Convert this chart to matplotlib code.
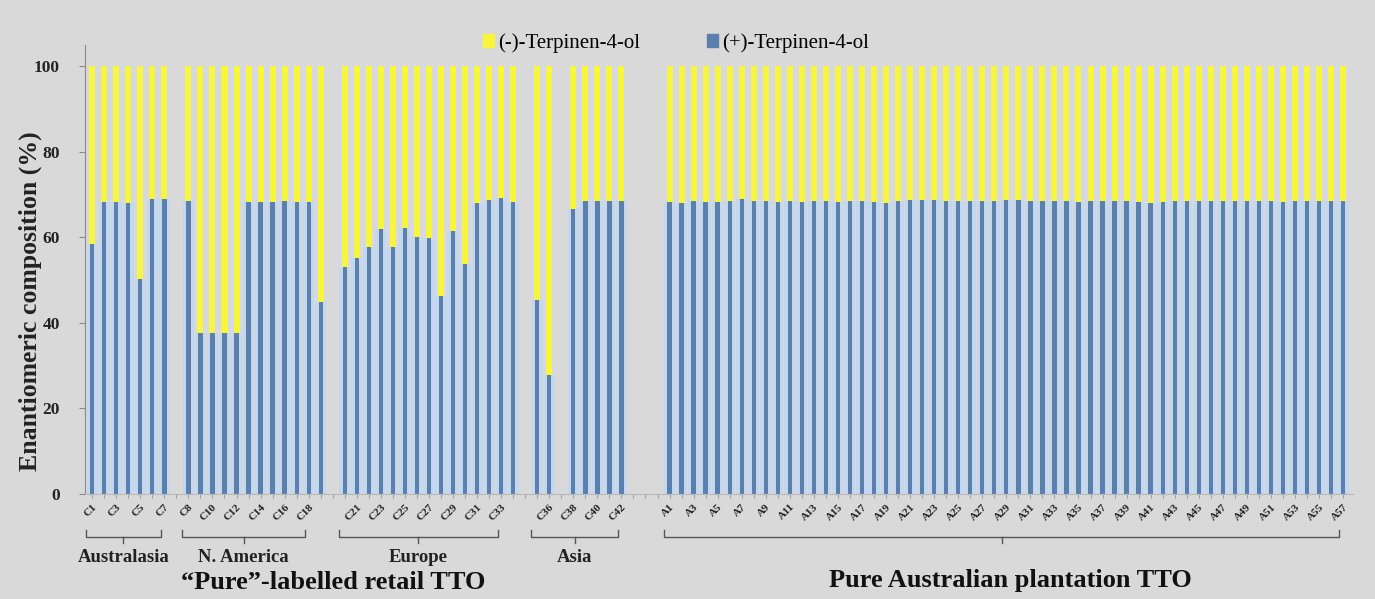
import matplotlib
matplotlib.use("Agg")
import matplotlib.pyplot as plt
import matplotlib.transforms as mtrans
from matplotlib.patches import Patch
import numpy as np

# sample names and (+)-terpinen-4-ol share (%) per group
aus_names = ["C%d" % i for i in range(1, 8)]
aus_plus = [58.5, 68.2, 68.3, 68.0, 50.2, 68.9, 68.9]

na_names = ["C%d" % i for i in range(8, 20)]
na_plus = [68.4, 37.6, 37.6, 37.7, 37.6, 68.2, 68.2, 68.3, 68.6, 68.2, 68.3, 44.8]

eu_names = ["C%d" % i for i in range(20, 35)]
eu_plus = [53.0, 55.1, 57.8, 61.9, 57.8, 62.2, 60.1, 59.9, 46.4, 61.4, 53.8,
           68.1, 68.7, 69.2, 68.3]

asia_names = ["C%d" % i for i in range(35, 43)]
asia_plus = [45.4, 27.8, np.nan, 66.6, 68.4, 68.6, 68.5, 68.5]

plant_names = ["A%d" % i for i in range(1, 58)]
plant_plus = [68.3, 68.1, 68.4, 68.3, 68.2, 68.5, 68.9, 68.6, 68.4, 68.3,
              68.4, 68.3, 68.5, 68.4, 68.3, 68.4, 68.4, 68.3, 68.1, 68.5,
              68.7, 68.8, 68.7, 68.6, 68.4, 68.5, 68.6, 68.5, 68.7, 68.8,
              68.6, 68.4, 68.4, 68.5, 68.3, 68.5, 68.6, 68.5, 68.4, 68.3,
              68.1, 68.3, 68.5, 68.6, 68.5, 68.4, 68.5, 68.4, 68.5, 68.6,
              68.4, 68.3, 68.5, 68.4, 68.6, 68.5, 68.6]

groups = [("Australasia", aus_names, aus_plus, 1),
          ("N. America", na_names, na_plus, 1),
          ("Europe", eu_names, eu_plus, 1),
          ("Asia", asia_names, asia_plus, 3),
          ("", plant_names, plant_plus, 0)]

names, plus, spans = [], [], []
for label, nm, vals, gap in groups:
    start = len(names)
    names += nm
    plus += vals
    spans.append((label, start, len(names) - 1))
    names += [""] * gap
    plus += [np.nan] * gap

plus = np.array(plus)
minus = 100 - plus
x = np.arange(len(names))
ok = ~np.isnan(plus)

bg = "#d9d9d9"
fig = plt.figure(figsize=(13.75, 5.99), dpi=100, facecolor=bg)
ax = fig.add_axes([0.0618, 0.1753, 0.922, 0.7496], facecolor=bg)

serif = "Liberation Serif"

# soft halos behind the bars, then the bars themselves
ax.bar(x[ok], minus[ok], bottom=plus[ok], width=0.85, color="#d6d8e6", lw=0)
ax.bar(x[ok], plus[ok], width=0.92, color="#c3d7ef", lw=0)
ax.bar(x[ok], minus[ok], bottom=plus[ok], width=0.5, color="#f7f53c", lw=0)
ax.bar(x[ok], plus[ok], width=0.36, color="#5c80ad", lw=0)

ax.set_xlim(-0.6, len(names) - 0.2)
ax.set_ylim(0, 105)
ax.set_yticks(range(0, 101, 20))
ax.set_xticks(x)
ax.set_xticklabels([n if i % 2 == 0 else "" for i, n in enumerate(names)],
                   rotation=45, ha="right", rotation_mode="anchor",
                   fontsize=8, fontweight="bold", family=serif, color="#222222")
for lab in ax.get_yticklabels():
    lab.set_fontfamily(serif)
    lab.set_fontweight("bold")
    lab.set_fontsize(12.5)
    lab.set_color("#222222")
ax.tick_params(axis="y", length=4, color="#8a8a8a", pad=14)
ax.tick_params(axis="x", length=3, color="#a0a0a0", pad=3)
for s in ["top", "right"]:
    ax.spines[s].set_visible(False)
ax.spines["left"].set_color("#8a8a8a")
ax.spines["bottom"].set_color("#b8b8b8")

ax.set_ylabel("Enantiomeric composition (%)", family=serif, fontweight="bold",
              fontsize=18.5, color="#222222")
ax.yaxis.set_label_coords(-0.034, 0.43)

handles = [Patch(color="#f7f53c", label="(-)-Terpinen-4-ol"),
           Patch(color="#5c80ad", label="(+)-Terpinen-4-ol")]
fig.legend(handles=handles, loc="center", bbox_to_anchor=(0.4916, 0.928), ncol=2,
           frameon=False, handlelength=0.55, handleheight=0.55, handletextpad=0.2,
           columnspacing=3.2, prop={"family": serif, "size": 15})

# group brackets under the tick labels
tr = mtrans.blended_transform_factory(ax.transData, fig.transFigure)
yb, yt, yc = 0.1035, 0.115, 0.093
for label, first, last in spans:
    last_lab = last if (last % 2 == 0) else last - 1
    x0, x1 = first - 0.5, last_lab - 0.3
    xm = (x0 + x1) / 2
    ax.plot([x0, x0, x1, x1], [yt, yb, yb, yt], transform=tr, clip_on=False,
            color="#555555", lw=1)
    ax.plot([xm, xm], [yb, yc], transform=tr, clip_on=False, color="#555555", lw=1)
    if label:
        ax.text(xm, 0.07, label, transform=tr, ha="center", va="center",
                family=serif, fontweight="bold", fontsize=13.5, color="#222222")

fig.text(0.242, 0.028, "\u201cPure\u201d-labelled retail TTO", ha="center", va="center",
         family=serif, fontweight="bold", fontsize=19, color="#111111")
fig.text(0.7345, 0.031, "Pure Australian plantation TTO", ha="center", va="center",
         family=serif, fontweight="bold", fontsize=19, color="#111111")

fig.savefig("out.png", dpi=100, facecolor=bg)
